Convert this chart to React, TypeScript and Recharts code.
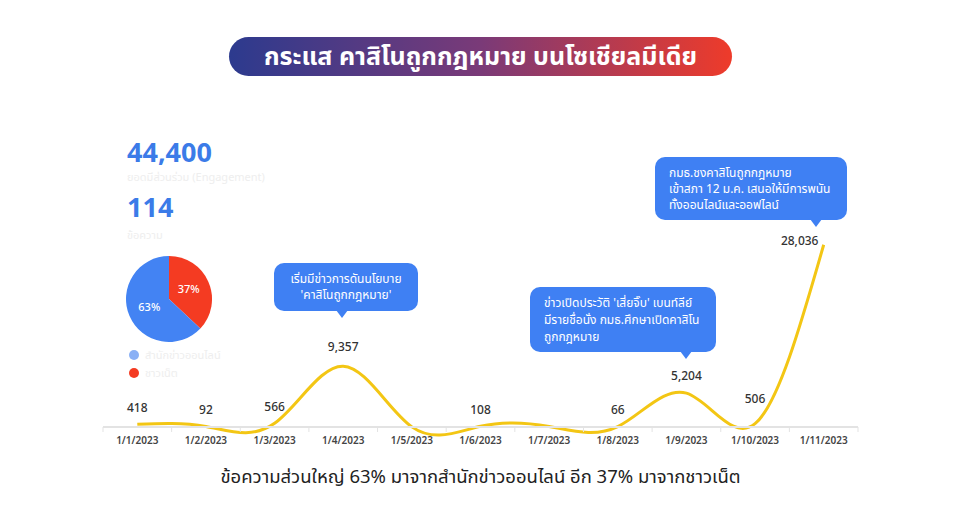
import React from "react";
import { LineChart, Line, XAxis, YAxis, LabelList, PieChart, Pie, Cell } from "recharts";

const months = [
  "1/1/2023", "1/2/2023", "1/3/2023", "1/4/2023", "1/5/2023", "1/6/2023",
  "1/7/2023", "1/8/2023", "1/9/2023", "1/10/2023", "1/11/2023",
];
const mentions = [418, 92, 566, 9357, 20, 108, 90, 66, 5204, 506, 28036];
const unlabeled = ["1/5/2023", "1/7/2023"];

const sourceNames = ["ชาวเน็ต", "สำนักข่าวออนไลน์"];
const sourceShares = [37, 63];
const sourceColors = ["#f43b22", "#4383f3"];

const totalEngagement = "44,400";
const totalMessages = "114";

const data = months.map((m, i) => ({ month: m, value: mentions[i] }));
const pieData = sourceNames.map((n, i) => ({ name: n, value: sourceShares[i] }));

const FONT = "'Noto Sans', 'Noto Sans Thai', Roboto, sans-serif";
const LINE = "#f3c614";
const BLUE = "#3f80f3";
const HALF_BAND = 34.3;

function AxisTick(props: any) {
  const { x, y, payload, index } = props;
  return (
    <g>
      <line x1={x - HALF_BAND} y1={y - 8} x2={x - HALF_BAND} y2={y - 3} stroke="#e3e3e3" />
      {index === months.length - 1 && (
        <line x1={x + HALF_BAND} y1={y - 8} x2={x + HALF_BAND} y2={y - 3} stroke="#e3e3e3" />
      )}
      <text x={x} y={y + 6} textAnchor="middle" dominantBaseline="middle" fontSize={10} fontWeight={600} fill="#444" fontFamily={FONT}>
        {payload.value}
      </text>
    </g>
  );
}

function ValueLabel(props: any) {
  const { x, y, value, index } = props;
  if (unlabeled.includes(months[index])) return null;
  let dx = 0;
  let dy = -16;
  if (index === months.length - 1) { dx = -24; dy = -3; }
  if (index === 9) dy = -24;
  if (index === 3) dy = -18;
  return (
    <text x={x + dx} y={y + dy} textAnchor="middle" dominantBaseline="middle" fontSize={12} fontWeight={500} fill="#333" fontFamily={FONT}>
      {Number(value).toLocaleString("en-US")}
    </text>
  );
}

function Callout({ left, top, width, height, pointerX, align, lines, lineHeight = 15 }: any) {
  return (
    <div style={{ position: "absolute", left, top, width, height }}>
      <div
        style={{
          position: "absolute", inset: 0, background: BLUE, borderRadius: 10,
          color: "#fff", fontSize: 12, lineHeight: `${lineHeight}px`, fontFamily: FONT,
          display: "flex", flexDirection: "column", justifyContent: "center",
          alignItems: align === "center" ? "center" : "flex-start",
          textAlign: align, padding: "0 14px", boxSizing: "border-box",
        }}
      >
        {lines.map((l: string) => <div key={l}>{l}</div>)}
      </div>
      <div
        style={{
          position: "absolute", left: pointerX - left - 6, top: height - 1, width: 0, height: 0,
          borderLeft: "6px solid transparent", borderRight: "6px solid transparent",
          borderTop: `8px solid ${BLUE}`,
        }}
      />
    </div>
  );
}

const faint = { position: "absolute" as const, left: 127, fontSize: 11, lineHeight: "12px", color: "#eeeeee" };
const big = { position: "absolute" as const, left: 127, fontSize: 27, lineHeight: "22px", fontWeight: 700, color: "#3b7be8" };

export default function App() {
  return (
    <div style={{ position: "absolute", left: 0, top: 0, width: 961, height: 531, background: "#fff", fontFamily: FONT, overflow: "hidden" }}>
      <div
        style={{
          position: "absolute", left: 229, top: 37, width: 503, height: 39, borderRadius: 20,
          background: "linear-gradient(90deg, #2c3a8e 0%, #7a3a78 50%, #ee3b2a 100%)",
          color: "#fff", fontSize: 25, fontWeight: 700, display: "flex",
          alignItems: "center", justifyContent: "center",
        }}
      >
        กระแส คาสิโนถูกกฎหมาย บนโซเชียลมีเดีย
      </div>

      <LineChart
        width={961}
        height={531}
        data={data}
        margin={{ top: 232, right: 103, bottom: 74, left: 103 }}
        style={{ position: "absolute", left: 0, top: 0 }}
      >
        <XAxis
          dataKey="month"
          height={30}
          axisLine={{ stroke: "#e3e3e3", strokeWidth: 2 }}
          tickLine={false}
          interval={0}
          padding={{ left: HALF_BAND, right: HALF_BAND }}
          tick={<AxisTick />}
        />
        <YAxis hide domain={[0, 30000]} width={0} />
        <Line
          type="natural"
          dataKey="value"
          stroke={LINE}
          strokeWidth={3}
          dot={false}
          activeDot={false}
          isAnimationActive={false}
        >
          <LabelList dataKey="value" content={<ValueLabel />} />
        </Line>
      </LineChart>

      <div style={{ ...big, top: 141 }}>{totalEngagement}</div>
      <div style={{ ...faint, top: 171 }}>ยอดมีส่วนร่วม (Engagement)</div>
      <div style={{ ...big, top: 196 }}>{totalMessages}</div>
      <div style={{ ...faint, top: 229 }}>ข้อความ</div>

      <PieChart width={100} height={100} margin={{ top: 0, right: 0, bottom: 0, left: 0 }} style={{ position: "absolute", left: 119, top: 249 }}>
        <Pie
          data={pieData}
          dataKey="value"
          cx={50}
          cy={50}
          outerRadius={43}
          startAngle={90}
          endAngle={-270}
          stroke="none"
          isAnimationActive={false}
          labelLine={false}
          label={(p: any) => {
            const r = p.outerRadius * 0.5;
            const a = (-p.midAngle * Math.PI) / 180;
            return (
              <text x={p.cx + r * Math.cos(a)} y={p.cy + r * Math.sin(a)} textAnchor="middle" dominantBaseline="middle" fill="#fff" fontSize={11} fontWeight={500} fontFamily={FONT}>
                {p.value}%
              </text>
            );
          }}
        >
          {pieData.map((d, i) => <Cell key={d.name} fill={sourceColors[i]} />)}
        </Pie>
      </PieChart>

      <div style={{ position: "absolute", left: 129, top: 350, width: 10, height: 10, borderRadius: 5, background: "#8ab0f5" }} />
      <div style={{ ...faint, left: 145, top: 349 }}>{sourceNames[1]}</div>
      <div style={{ position: "absolute", left: 129, top: 368, width: 10, height: 10, borderRadius: 5, background: sourceColors[0] }} />
      <div style={{ ...faint, left: 145, top: 367 }}>{sourceNames[0]}</div>

      <Callout left={274} top={263} width={144} height={48} pointerX={342} align="center" lineHeight={16}
        lines={["เริ่มมีข่าวการดันนโยบาย", "'คาสิโนถูกกฎหมาย'"]} />
      <Callout left={530} top={287} width={186} height={65} pointerX={686} align="left" lineHeight={17}
        lines={["ข่าวเปิดประวัติ 'เสี่ยจิ๊บ' เบนท์ลีย์", "มีรายชื่อนั่ง กมธ.ศึกษาเปิดคาสิโน", "ถูกกฎหมาย"]} />
      <Callout left={655} top={157} width={192} height={63} pointerX={816} align="left" lineHeight={16}
        lines={["กมธ.ชงคาสิโนถูกกฎหมาย", "เข้าสภา 12 ม.ค. เสนอให้มีการพนัน", "ทั้งออนไลน์และออฟไลน์"]} />

      <div style={{ position: "absolute", left: 0, width: 961, top: 463, textAlign: "center", fontSize: 18.5, color: "#222" }}>
        ข้อความส่วนใหญ่ 63% มาจากสำนักข่าวออนไลน์ อีก 37% มาจากชาวเน็ต
      </div>
    </div>
  );
}
